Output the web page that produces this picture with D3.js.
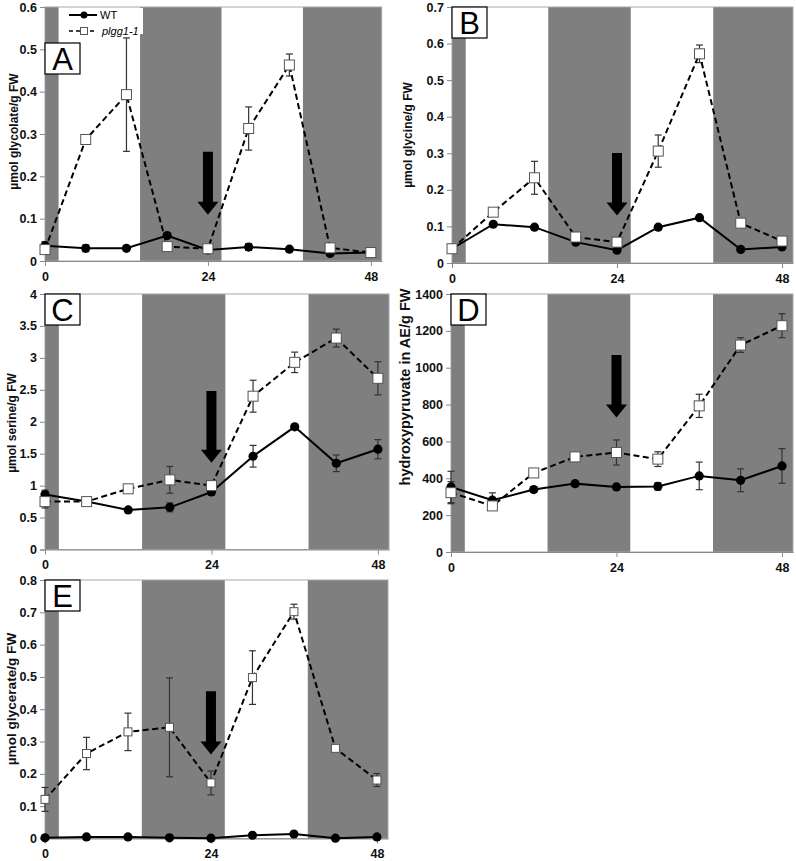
<!DOCTYPE html>
<html>
<head>
<meta charset="utf-8">
<script src="https://cdn.jsdelivr.net/npm/d3@7"></script>
<style>
body{margin:0;background:#fff;}
svg{display:block;}
text{font-family:"Liberation Sans",Arial,sans-serif;}
</style>
</head>
<body>
<svg id="chart" width="796" height="861"></svg>
<script>
// ---------- data ----------
const hours = [0, 6, 12, 18, 24, 30, 36, 42, 48];
const xTickLabels = [0, 24, 48];
const darkPeriods = [[0, 2], [14, 26], [38, 49.6]];
const seriesNames = ["WT", "plgg1-1"];

const glycolateWT = [0.036, 0.030, 0.030, 0.060, 0.026, 0.033, 0.028, 0.018, 0.020];
const glycolateWTErr = [0.010, 0.008, 0.005, 0.005, 0.005, 0.008, 0.004, 0.004, 0.004];
const glycolatePlgg = [0.027, 0.287, 0.393, 0.034, 0.029, 0.313, 0.463, 0.031, 0.020];
const glycolatePlggErr = [0.006, 0.006, 0.134, 0.005, 0.005, 0.051, 0.026, 0.005, 0.004];
const glycolateTicks = [0, 0.1, 0.2, 0.3, 0.4, 0.5, 0.6];

const glycineWT = [0.039, 0.106, 0.098, 0.057, 0.035, 0.098, 0.124, 0.037, 0.044];
const glycineWTErr = [0.005, 0.006, 0.004, 0.004, 0.004, 0.004, 0.004, 0.004, 0.004];
const glycinePlgg = [0.039, 0.139, 0.233, 0.071, 0.057, 0.306, 0.572, 0.109, 0.060];
const glycinePlggErr = [0.005, 0.005, 0.045, 0.005, 0.005, 0.044, 0.024, 0.005, 0.004];
const glycineTicks = [0, 0.1, 0.2, 0.3, 0.4, 0.5, 0.6, 0.7];

const serineWT = [0.86, 0.75, 0.62, 0.66, 0.90, 1.46, 1.92, 1.35, 1.57];
const serineWTErr = [0.07, 0.03, 0.03, 0.07, 0.05, 0.17, 0.03, 0.13, 0.15];
const serinePlgg = [0.75, 0.75, 0.95, 1.09, 1.00, 2.40, 2.93, 3.31, 2.68];
const serinePlggErr = [0.10, 0.03, 0.03, 0.21, 0.05, 0.25, 0.16, 0.14, 0.26];
const serineTicks = [0, 0.5, 1, 1.5, 2, 2.5, 3, 3.5, 4];

const hydroxypyruvateWT = [353, 281, 339, 371, 353, 356, 413, 389, 467];
const hydroxypyruvateWTErr = [85, 40, 15, 15, 15, 20, 75, 62, 94];
const hydroxypyruvatePlgg = [322, 250, 429, 516, 540, 504, 793, 1123, 1228];
const hydroxypyruvatePlggErr = [60, 15, 20, 20, 68, 40, 63, 40, 65];
const hydroxypyruvateTicks = [0, 200, 400, 600, 800, 1000, 1200, 1400];

const glycerateWT = [0.002, 0.005, 0.005, 0.002, 0.001, 0.010, 0.014, 0.001, 0.005];
const glycerateWTErr = [0.003, 0.003, 0.003, 0.003, 0.003, 0.003, 0.003, 0.003, 0.003];
const glyceratePlgg = [0.121, 0.263, 0.330, 0.344, 0.172, 0.498, 0.702, 0.279, 0.181];
const glyceratePlggErr = [0.037, 0.050, 0.058, 0.153, 0.037, 0.083, 0.023, 0.005, 0.020];
const glycerateTicks = [0, 0.1, 0.2, 0.3, 0.4, 0.5, 0.6, 0.7, 0.8];

const panelLetters = ["A", "B", "C", "D", "E"];
const yTitles = ["µmol glycolate/g FW", "µmol glycine/g FW", "µmol serine/g FW",
                 "hydroxypyruvate in AE/g FW", "µmol glycerate/g FW"];
const arrowTops = [0.258, 0.301, 2.48, 1069, 0.456];
const arrowTips = [0.109, 0.130, 1.36, 730, 0.260];

// ---------- layout ----------
const layout = [
  {x0: 45, x1: 381.7, y0: 7, y1: 261, tx: 14, ty: 131.5, tf: 12, sq: 10},
  {x0: 452, x1: 793, y0: 7, y1: 263, tx: 408, ty: 135, tf: 12, sq: 10},
  {x0: 45, x1: 389, y0: 294, y1: 549.5, tx: 12, ty: 423, tf: 12, sq: 10},
  {x0: 451, x1: 793, y0: 294, y1: 552, tx: 405, ty: 387, tf: 14.5, sq: 10},
  {x0: 45, x1: 388, y0: 580, y1: 838.5, tx: 11, ty: 699, tf: 13.6, sq: 8}
];

const panels = [
  {wt: glycolateWT, wtErr: glycolateWTErr, pl: glycolatePlgg, plErr: glycolatePlggErr, ticks: glycolateTicks},
  {wt: glycineWT, wtErr: glycineWTErr, pl: glycinePlgg, plErr: glycinePlggErr, ticks: glycineTicks},
  {wt: serineWT, wtErr: serineWTErr, pl: serinePlgg, plErr: serinePlggErr, ticks: serineTicks},
  {wt: hydroxypyruvateWT, wtErr: hydroxypyruvateWTErr, pl: hydroxypyruvatePlgg, plErr: hydroxypyruvatePlggErr, ticks: hydroxypyruvateTicks},
  {wt: glycerateWT, wtErr: glycerateWTErr, pl: glyceratePlgg, plErr: glyceratePlggErr, ticks: glycerateTicks}
];

const svg = d3.select("#chart");
const DARK = "#7f7f7f";

panels.forEach((p, i) => {
  const L = layout[i];
  const x = d3.scaleLinear().domain([0, 49.6]).range([L.x0, L.x1]);
  const yMax = p.ticks[p.ticks.length - 1];
  const y = d3.scaleLinear().domain([0, yMax]).range([L.y1, L.y0]);
  const g = svg.append("g");

  // background
  g.append("rect").attr("x", L.x0).attr("y", L.y0)
    .attr("width", L.x1 - L.x0).attr("height", L.y1 - L.y0).attr("fill", "#fff");
  g.selectAll("rect.dark").data(darkPeriods).enter().append("rect")
    .attr("class", "dark")
    .attr("x", d => x(d[0])).attr("y", L.y0)
    .attr("width", d => x(d[1]) - x(d[0])).attr("height", L.y1 - L.y0)
    .attr("fill", DARK);
  g.append("rect").attr("x", L.x0).attr("y", L.y0)
    .attr("width", L.x1 - L.x0).attr("height", L.y1 - L.y0)
    .attr("fill", "none").attr("stroke", "#a8a8a8").attr("stroke-width", 1);

  // axes
  const yAxis = d3.axisLeft(y).tickValues(p.ticks).tickSize(5).tickPadding(3)
    .tickFormat(d => d3.format("")(+d.toFixed(2)));
  const ya = g.append("g").attr("transform", `translate(${L.x0},0)`).call(yAxis);
  ya.select(".domain").attr("stroke", "#8a8a8a");
  ya.selectAll(".tick line").attr("stroke", "#8a8a8a");
  ya.selectAll("text").attr("font-size", 12.5).attr("font-weight", "bold").attr("fill", "#111");

  const xAxis = d3.axisBottom(x).tickValues(xTickLabels).tickSize(5).tickSizeOuter(0).tickPadding(6);
  const xa = g.append("g").attr("transform", `translate(0,${L.y1})`).call(xAxis);
  xa.select(".domain").attr("stroke", "#8a8a8a");
  xa.selectAll(".tick line").attr("stroke", "#8a8a8a");
  xa.selectAll("text").attr("font-size", 12.5).attr("font-weight", "bold").attr("fill", "#111");

  // y title
  g.append("text").attr("transform", `translate(${L.tx},${L.ty}) rotate(-90)`)
    .attr("text-anchor", "middle").attr("dy", "0.35em")
    .attr("font-size", L.tf).attr("font-weight", "bold")
    .attr("fill", "#111").text(yTitles[i]);

  // arrow
  const ax = x(24), aTop = y(arrowTops[i]), aTip = y(arrowTips[i]);
  const hh = 13, sw = 5, hw = 10.5;
  g.append("path")
    .attr("d", `M${ax - sw},${aTop} L${ax + sw},${aTop} L${ax + sw},${aTip - hh} L${ax + hw},${aTip - hh} L${ax},${aTip} L${ax - hw},${aTip - hh} L${ax - sw},${aTip - hh} Z`)
    .attr("fill", "#000");

  // error bars
  const drawErr = (vals, errs) => {
    const eg = g.append("g");
    hours.forEach((h, k) => {
      const cx = x(h), t = y(vals[k] + errs[k]), b = y(Math.max(0, vals[k] - errs[k]));
      eg.append("line").attr("x1", cx).attr("x2", cx).attr("y1", t).attr("y2", b)
        .attr("stroke", "#333").attr("stroke-width", 1.2);
      [t, b].forEach(yy => eg.append("line").attr("x1", cx - 3.5).attr("x2", cx + 3.5)
        .attr("y1", yy).attr("y2", yy).attr("stroke", "#333").attr("stroke-width", 1.2));
    });
  };
  drawErr(p.pl, p.plErr);
  drawErr(p.wt, p.wtErr);

  const line = d3.line().x((d, k) => x(hours[k])).y(d => y(d));
  g.append("path").datum(p.pl).attr("d", line).attr("fill", "none")
    .attr("stroke", "#000").attr("stroke-width", 2).attr("stroke-dasharray", "6,3.5");
  g.append("path").datum(p.wt).attr("d", line).attr("fill", "none")
    .attr("stroke", "#000").attr("stroke-width", 2);

  g.selectAll("circle.wt").data(p.wt).enter().append("circle")
    .attr("cx", (d, k) => x(hours[k])).attr("cy", d => y(d)).attr("r", 4.6).attr("fill", "#000");
  const s = L.sq;
  g.selectAll("rect.pl").data(p.pl).enter().append("rect")
    .attr("x", (d, k) => x(hours[k]) - s / 2).attr("y", d => y(d) - s / 2)
    .attr("width", s).attr("height", s)
    .attr("fill", "#fff").attr("stroke", "#555").attr("stroke-width", 1);

  // panel letter
  const lb = g.append("g");
  const bx = L.x0, by = (i === 0 ? 43 : L.y0);
  lb.append("rect").attr("x", bx).attr("y", by).attr("width", 35).attr("height", 31)
    .attr("fill", "#fff").attr("stroke", "#000").attr("stroke-width", 1.2);
  lb.append("text").attr("x", bx + 17.5).attr("y", by + 27).attr("text-anchor", "middle")
    .attr("font-size", 31).attr("fill", "#000").text(panelLetters[i]);

  // legend in panel A
  if (i === 0) {
    const lg = g.append("g");
    lg.append("rect").attr("x", 60).attr("y", 8).attr("width", 83).attr("height", 26).attr("fill", "#fff");
    lg.append("line").attr("x1", 69).attr("x2", 97).attr("y1", 15).attr("y2", 15)
      .attr("stroke", "#000").attr("stroke-width", 2);
    lg.append("circle").attr("cx", 84).attr("cy", 15).attr("r", 3.5).attr("fill", "#000");
    lg.append("text").attr("x", 100).attr("y", 19).attr("font-size", 11).text(seriesNames[0]);
    lg.append("line").attr("x1", 69).attr("x2", 97).attr("y1", 31).attr("y2", 31)
      .attr("stroke", "#000").attr("stroke-width", 1.5).attr("stroke-dasharray", "4,3");
    lg.append("rect").attr("x", 80.5).attr("y", 27.5).attr("width", 7).attr("height", 7)
      .attr("fill", "#fff").attr("stroke", "#555");
    lg.append("text").attr("x", 102).attr("y", 35).attr("font-size", 11)
      .attr("font-style", "italic").text(seriesNames[1]);
  }
});
</script>
</body>
</html>
